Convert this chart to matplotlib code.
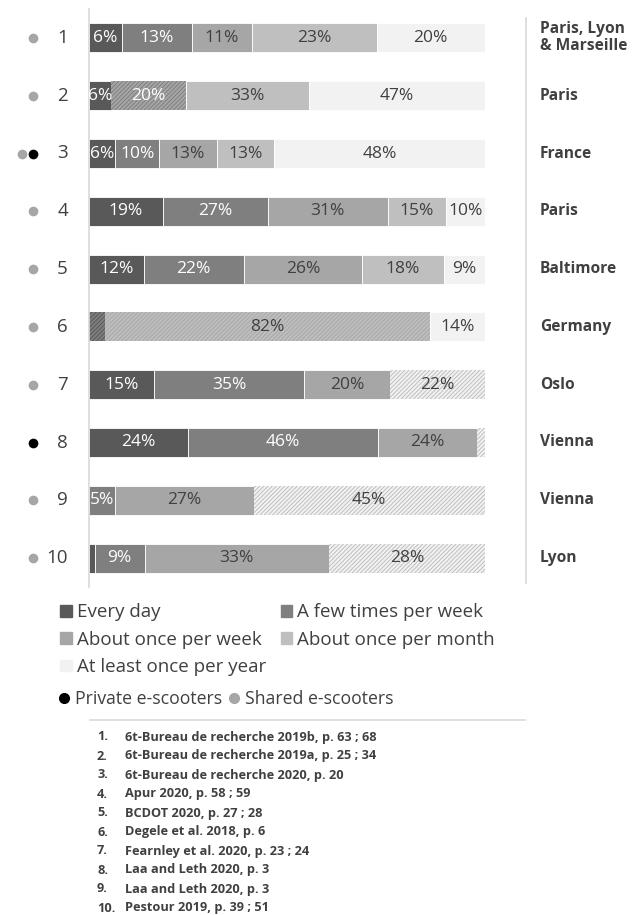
import matplotlib
matplotlib.use("Agg")
import matplotlib.pyplot as plt
from matplotlib.patches import Patch
from matplotlib.lines import Line2D

plt.rcParams['font.family'] = ['Open Sans', 'DejaVu Sans']
plt.rcParams['hatch.linewidth'] = 0.7

# data
ROW_IDS = ['1', '2', '3', '4', '5', '6', '7', '8', '9', '10']
PLACES = ['Paris, Lyon\n& Marseille', 'Paris', 'France', 'Paris', 'Baltimore',
          'Germany', 'Oslo', 'Vienna', 'Vienna', 'Lyon']
SEG_VALUES = [
    [6, 13, 11, 23, 20],
    [6, 20, 33, 47],
    [6, 10, 13, 13, 48],
    [19, 27, 31, 15, 10],
    [12, 22, 26, 18, 9],
    [4, 82, 14],
    [15, 35, 20, 22],
    [24, 46, 24, 2],
    [5, 27, 45],
    [1, 9, 33, 28],
]
SEG_KINDS = [
    ['day', 'few', 'week', 'month', 'year'],
    ['day', 'few+week', 'month', 'year'],
    ['day', 'few', 'week', 'month', 'year'],
    ['day', 'few', 'week', 'month', 'year'],
    ['day', 'few', 'week', 'month', 'year'],
    ['day+few', 'week+month', 'year'],
    ['day', 'few', 'week', 'month+year'],
    ['day', 'few', 'week', 'month+year'],
    ['few', 'week', 'month+year'],
    ['day', 'few', 'week', 'month+year'],
]
SCOOTERS = [['shared'], ['shared'], ['shared', 'private'], ['shared'], ['shared'],
            ['shared'], ['shared'], ['private'], ['shared'], ['shared']]
LEGEND_NAMES = ['Every day', 'A few times per week', 'About once per week',
                'About once per month', 'At least once per year']
SOURCES = ['6t-Bureau de recherche 2019b, p. 63 ; 68',
           '6t-Bureau de recherche 2019a, p. 25 ; 34',
           '6t-Bureau de recherche 2020, p. 20',
           'Apur 2020, p. 58 ; 59',
           'BCDOT 2020, p. 27 ; 28',
           'Degele et al. 2018, p. 6',
           'Fearnley et al. 2020, p. 23 ; 24',
           'Laa and Leth 2020, p. 3',
           'Laa and Leth 2020, p. 3',
           'Pestour 2019, p. 39 ; 51']

BASE = {'day': '#595959', 'few': '#7f7f7f', 'week': '#a6a6a6',
        'month': '#bfbfbf', 'year': '#f2f2f2'}
TXT = '#404040'
W, H = 640, 915


def fx(px):
    return px / W


def fy(py):
    return 1 - py / H


fig = plt.figure(figsize=(6.4, 9.15), dpi=100)
ax = fig.add_axes([fx(89), fy(587), fx(485) - fx(89), (587 - 9) / H])

for i, (vals, kinds) in enumerate(zip(SEG_VALUES, SEG_KINDS)):
    total = sum(vals)
    left = 0
    for v, k in zip(vals, kinds):
        w = v / total * 100
        parts = k.split('+')
        if len(parts) == 1:
            ax.barh(i, w, left=left, height=0.5, color=BASE[k],
                    edgecolor='white', linewidth=0.6)
        else:
            ax.barh(i, w, left=left, height=0.5, color=BASE[parts[1]],
                    edgecolor=BASE[parts[0]], linewidth=0, hatch='////////')
        if v >= 5:
            dark = parts[0] in ('day', 'few')
            ax.text(left + w / 2, i, f'{v}%', ha='center', va='center',
                    fontsize=12.5, color='white' if dark else TXT)
        left += w

ax.set_xlim(0, 100)
ax.set_ylim(9.5, -0.5)
for s in ['top', 'right', 'bottom']:
    ax.spines[s].set_visible(False)
ax.spines['left'].set_color('#d9d9d9')
ax.spines['left'].set_linewidth(1.2)
ax.set_xticks([])
ax.set_yticks([])

# row numbers, scooter dots and place names
tr = ax.get_yaxis_transform()
for i, rid in enumerate(ROW_IDS):
    ax.text((68 - 89) / 396, i, rid, transform=tr, ha='right', va='center',
            fontsize=13.5, color=TXT, clip_on=False)
    kinds = SCOOTERS[i]
    xs = [33] if len(kinds) == 1 else [22, 33]
    for x, k in zip(xs, kinds):
        ax.plot([(x - 89) / 396], [i], 'o', ms=7, transform=tr, clip_on=False,
                color='black' if k == 'private' else '#a6a6a6', mec='none')
    ax.text((540 - 89) / 396, i, PLACES[i], transform=tr, ha='left', va='center',
            fontsize=11.2, fontweight='bold', color=TXT, clip_on=False,
            linespacing=1.1)

fig.add_artist(Line2D([fx(526), fx(526)], [fy(18), fy(583)], color='#d9d9d9', lw=1.2))

# frequency legend
order = [0, 2, 4, 1, 3]
keys = ['day', 'few', 'week', 'month', 'year']
handles = [Patch(color=BASE[keys[j]]) for j in order]
fig.legend(handles, [LEGEND_NAMES[j] for j in order], ncol=2,
           loc='upper left', bbox_to_anchor=(fx(51), fy(594)),
           frameon=False, fontsize=13.5, handlelength=0.6, handleheight=0.6,
           handletextpad=0.3, columnspacing=0.75, labelspacing=0.5,
           labelcolor=TXT, borderpad=0)

# scooter legend
sc = [Line2D([], [], marker='o', ls='none', color='black', ms=7),
      Line2D([], [], marker='o', ls='none', color='#a6a6a6', ms=7)]
fig.legend(sc, ['Private e-scooters', 'Shared e-scooters'], ncol=2,
           loc='upper left', bbox_to_anchor=(fx(51), fy(681)),
           frameon=False, fontsize=12.7, handlelength=0.5,
           handletextpad=0.35, columnspacing=0.45, labelcolor=TXT, borderpad=0)

fig.add_artist(Line2D([fx(90), fx(525)], [fy(720), fy(720)], color='#d9d9d9', lw=1.2))

for j, src in enumerate(SOURCES):
    y = fy(737 + j * 19)
    fig.text(fx(97), y, f'{j + 1}.', fontsize=9.2, fontweight='bold',
             color=TXT, va='center')
    fig.text(fx(125), y, src, fontsize=9.2, fontweight='bold',
             color=TXT, va='center')

fig.savefig('out.png', dpi=100)
